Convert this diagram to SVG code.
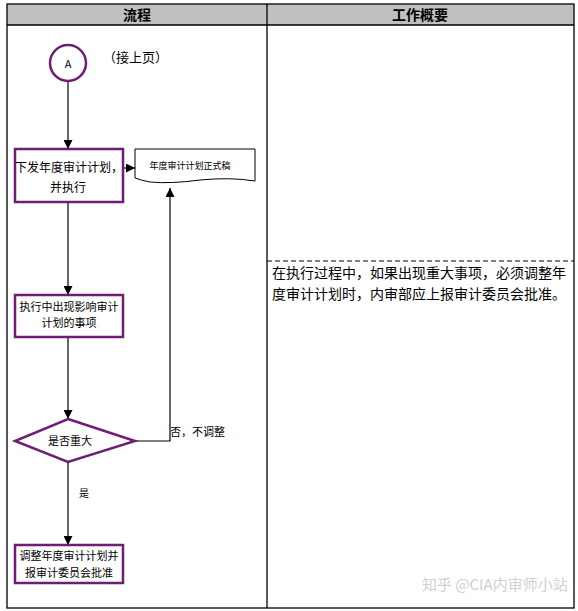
<svg xmlns="http://www.w3.org/2000/svg" width="578" height="611" viewBox="0 0 578 611">
<style>
text{font-family:"Noto Sans CJK SC","Liberation Sans",sans-serif;fill:#000}
.node{fill:#fff;stroke:#6e1f74;stroke-width:2.5}
.line{fill:none;stroke:#000;stroke-width:1.2}
.hdr{font-size:14px;font-weight:bold;text-anchor:middle}
.t12{font-size:12px;text-anchor:middle}
.t11{font-size:11px;text-anchor:middle}
.t9{font-size:9px;text-anchor:middle}
</style>
<defs>
<marker id="arr" viewBox="0 0 10 10" refX="10" refY="5" markerWidth="9" markerHeight="9" markerUnits="userSpaceOnUse" orient="auto">
<path d="M0,0 L10,5 L0,10 z" fill="#000"/>
</marker>
</defs>
<rect width="578" height="611" fill="#fff"/>
<g id="table">
<rect x="7" y="4" width="567" height="21" fill="#c0c0c0"/>
<rect x="7" y="4" width="567" height="604" fill="none" stroke="#000" stroke-width="1.3"/>
<line x1="7" y1="25" x2="574" y2="25" stroke="#000" stroke-width="1.3"/>
<line x1="267" y1="4" x2="267" y2="608" stroke="#000" stroke-width="1.3"/>
<text class="hdr" x="137" y="20">流程</text>
<text class="hdr" x="420" y="20">工作概要</text>
</g>
<g id="connectors">
<line class="line" x1="68" y1="81" x2="68" y2="149" marker-end="url(#arr)"/>
<line class="line" x1="123" y1="168" x2="135" y2="168" marker-end="url(#arr)"/>
<line class="line" x1="68" y1="202" x2="68" y2="295" marker-end="url(#arr)"/>
<line class="line" x1="68" y1="337" x2="68" y2="419" marker-end="url(#arr)"/>
<polyline class="line" points="135,441 170,441 170,188" marker-end="url(#arr)"/>
<line class="line" x1="68" y1="462" x2="68" y2="545" marker-end="url(#arr)"/>
<text x="170" y="436" font-size="11">否，不调整</text>
<text x="79" y="497" font-size="10">是</text>
</g>
<g id="start">
<circle class="node" cx="68" cy="63" r="18"/>
<text x="68" y="68" font-size="11" text-anchor="middle">A</text>
<text x="103" y="62" font-size="13">（接上页）</text>
</g>
<g id="issue">
<rect class="node" x="15" y="149" width="108" height="53"/>
<text class="t12" x="69" y="172">下发年度审计计划，</text>
<text class="t12" x="68" y="192">并执行</text>
</g>
<g id="doc">
<path d="M135,149 H255 V181 Q230,177 200,180 Q170,184 150,182 Q140,180 135,178 Z" fill="#fff" stroke="#000" stroke-width="1"/>
<text class="t9" x="190" y="169">年度审计计划正式稿</text>
</g>
<g id="event">
<rect class="node" x="15" y="295" width="108" height="42"/>
<text class="t11" x="69" y="311">执行中出现影响审计</text>
<text class="t11" x="69" y="327">计划的事项</text>
</g>
<g id="decision">
<polygon class="node" points="68,419 135,441 68,462 15,441"/>
<text class="t11" x="70" y="445">是否重大</text>
</g>
<g id="adjust">
<rect class="node" x="15" y="545" width="108" height="38"/>
<text class="t11" x="69" y="560">调整年度审计计划并</text>
<text class="t11" x="69" y="577">报审计委员会批准</text>
</g>
<g id="summary">
<line x1="267" y1="261" x2="574" y2="261" stroke="#000" stroke-width="1" stroke-dasharray="5,3"/>
<text x="272" y="278" font-size="14">在执行过程中，如果出现重大事项，必须调整年</text>
<text x="272" y="299" font-size="14">度审计计划时，内审部应上报审计委员会批准。</text>
</g>
<text x="422" y="590" font-size="15" style="fill:#d0d0d0">知乎 @CIA内审师小站</text>
</svg>
